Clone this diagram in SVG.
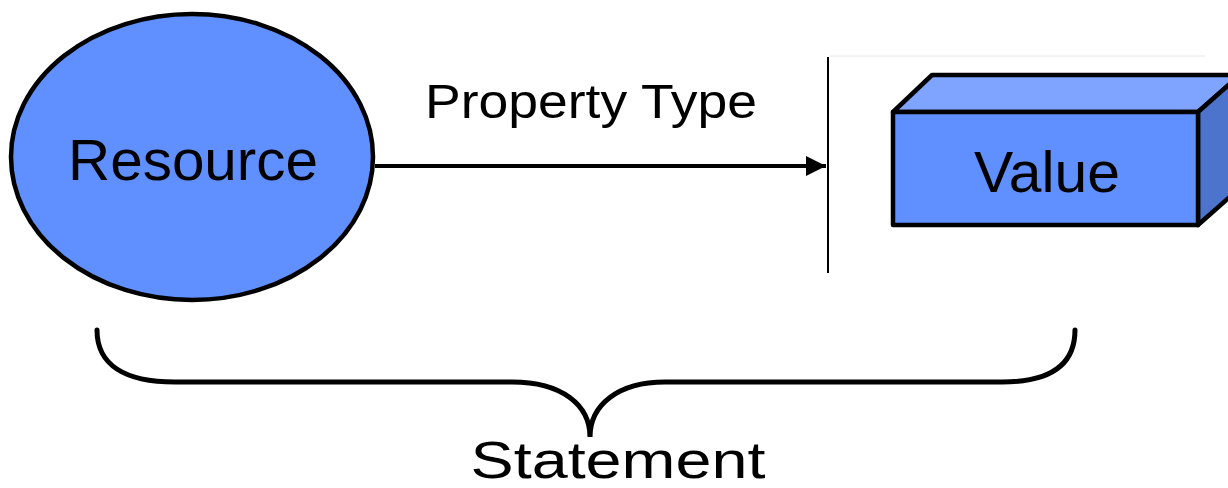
<svg xmlns="http://www.w3.org/2000/svg" width="1228" height="488" viewBox="0 0 1228 488">
<defs>
<style>
.lbl{font-family:"Liberation Sans","DejaVu Sans",sans-serif;fill:#000;}
.outline{stroke:#000;stroke-width:4.5;stroke-linejoin:round;}
</style>
<marker id="arr" viewBox="0 0 10 10" refX="10" refY="5" markerWidth="5" markerHeight="5" orient="auto" markerUnits="strokeWidth">
<path d="M0,0 L10,5 L0,10 z" fill="#000"/>
</marker>
</defs>
<rect width="1228" height="488" fill="#fff"/>
<line x1="830" y1="56" x2="1205" y2="56" stroke="#e6e6e6" stroke-width="1"/>
<g id="resource">
<ellipse cx="192" cy="157" rx="181" ry="143" fill="#6090FF" class="outline"/>
<text class="lbl" x="193" y="180" font-size="58" text-anchor="middle" textLength="250" lengthAdjust="spacingAndGlyphs">Resource</text>
</g>
<g id="value">
<polygon points="893,112 932,75 1240,75 1198,112" fill="#7EA4FF" class="outline"/>
<polygon points="1198,112 1240,75 1240,188 1198,225" fill="#4C74CC" class="outline"/>
<rect x="893" y="112" width="305" height="113" fill="#6090FF" class="outline"/>
<text class="lbl" x="1047" y="192" font-size="58" text-anchor="middle" textLength="146" lengthAdjust="spacingAndGlyphs">Value</text>
</g>
<g id="connectors">
<line x1="828" y1="57" x2="828" y2="273" stroke="#000" stroke-width="2"/>
<line x1="375" y1="166" x2="826" y2="166" stroke="#000" stroke-width="4" marker-end="url(#arr)"/>
<text class="lbl" x="591" y="118" font-size="48" text-anchor="middle" textLength="332" lengthAdjust="spacingAndGlyphs">Property Type</text>
</g>
<g id="statement">
<path d="M97,330 C97,365 125,382 175,382 L512,382 C562,382 590,405 590,437 C590,405 618,382 665,382 L1002,382 C1050,382 1075,365 1075,330" fill="none" stroke="#000" stroke-width="5" stroke-linecap="round"/>
<text class="lbl" x="618" y="478" font-size="52" text-anchor="middle" textLength="295" lengthAdjust="spacingAndGlyphs">Statement</text>
</g>
</svg>
